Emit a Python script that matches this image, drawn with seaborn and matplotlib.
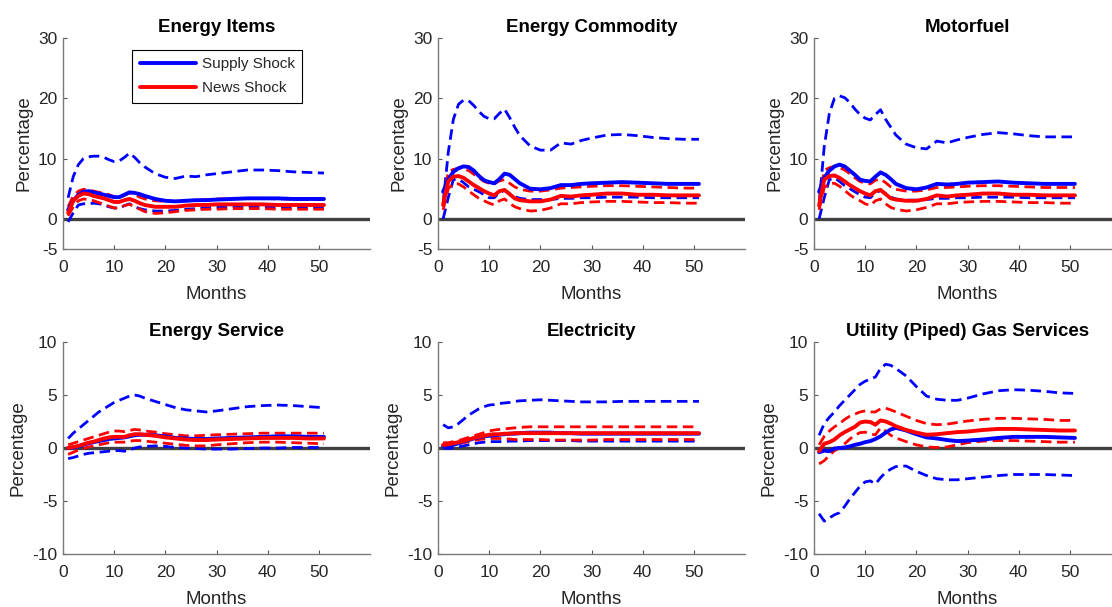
import numpy as np
import pandas as pd
import matplotlib
matplotlib.use("Agg")
import matplotlib.pyplot as plt
import seaborn as sns

sns.set_style("white")
plt.rcParams['font.family'] = ['Liberation Sans', 'DejaVu Sans']
plt.rcParams['axes.unicode_minus'] = False

months = [1, 2, 3, 4, 5, 6, 7, 8, 9, 10, 11, 12, 13, 14, 15, 16,
          18, 20, 22, 24, 26, 28, 30, 33, 36, 39, 42, 45, 48, 51]

titles = ["Energy Items", "Energy Commodity", "Motorfuel",
          "Energy Service", "Electricity", "Utility (Piped) Gas Services"]

# ---------------- Energy Items ----------------
items_supply_med = [1.5, 3.0, 4.0, 4.5, 4.6, 4.4, 4.2, 4.0, 3.8, 3.6, 3.6, 4.0, 4.4, 4.3, 4.1, 3.8,
                    3.3, 3.0, 2.9, 3.0, 3.1, 3.1, 3.2, 3.3, 3.4, 3.4, 3.4, 3.3, 3.3, 3.3]
items_supply_hi = [3.5, 7.0, 9.0, 10.0, 10.3, 10.4, 10.4, 10.2, 9.8, 9.5, 9.6, 10.2, 10.9, 10.2, 9.3, 8.6,
                   7.5, 6.9, 6.7, 7.1, 7.0, 7.3, 7.5, 7.8, 8.1, 8.1, 8.0, 7.8, 7.7, 7.6]
items_supply_lo = [-0.5, 1.0, 2.3, 2.5, 2.5, 2.6, 2.5, 2.3, 2.0, 1.8, 1.8, 2.2, 2.5, 2.0, 1.7, 1.5,
                   1.3, 1.3, 1.4, 1.6, 1.7, 1.8, 1.9, 2.0, 2.0, 2.0, 1.9, 1.9, 1.9, 1.8]
items_news_med = [1.0, 3.0, 3.8, 4.2, 4.1, 3.8, 3.6, 3.4, 3.1, 2.8, 2.8, 3.1, 3.3, 3.0, 2.6, 2.3,
                  2.0, 2.0, 2.0, 2.2, 2.3, 2.3, 2.4, 2.4, 2.4, 2.4, 2.3, 2.3, 2.3, 2.3]
items_news_hi = [2.0, 3.8, 4.6, 4.9, 4.8, 4.6, 4.4, 4.3, 4.0, 3.7, 3.5, 3.9, 4.3, 4.0, 3.6, 3.3,
                 3.0, 2.9, 2.9, 3.0, 3.1, 3.2, 3.3, 3.3, 3.4, 3.4, 3.3, 3.3, 3.2, 3.2]
items_news_lo = [0.5, 2.0, 3.0, 3.3, 3.2, 3.0, 2.7, 2.4, 2.1, 1.8, 1.8, 2.2, 2.4, 2.0, 1.6, 1.2,
                 0.9, 1.0, 1.2, 1.4, 1.5, 1.6, 1.6, 1.7, 1.7, 1.7, 1.6, 1.6, 1.6, 1.6]

# ---------------- Energy Commodity ----------------
comm_supply_med = [4.5, 6.5, 7.8, 8.4, 8.7, 8.6, 8.0, 7.1, 6.4, 6.1, 5.9, 6.6, 7.5, 7.3, 6.6, 5.9,
                   5.0, 4.9, 5.1, 5.6, 5.6, 5.8, 5.9, 6.0, 6.1, 6.0, 5.9, 5.8, 5.8, 5.8]
comm_supply_hi = [2.5, 11.0, 16.5, 19.0, 19.7, 19.6, 18.8, 17.8, 17.0, 16.6, 16.6, 17.5, 18.2, 16.8, 15.2, 13.8,
                  12.1, 11.4, 11.4, 12.6, 12.4, 13.0, 13.4, 13.9, 14.0, 13.8, 13.5, 13.3, 13.2, 13.2]
comm_supply_lo = [0.0, 3.5, 6.5, 6.6, 6.0, 5.3, 4.9, 4.5, 4.0, 3.5, 3.5, 4.4, 4.7, 4.2, 3.7, 3.4,
                  3.2, 3.2, 3.2, 3.4, 3.4, 3.5, 3.5, 3.6, 3.6, 3.6, 3.5, 3.5, 3.5, 3.5]
comm_news_med = [2.3, 6.2, 7.0, 7.1, 6.8, 6.2, 5.6, 5.1, 4.6, 4.2, 3.9, 4.6, 4.8, 4.1, 3.4, 3.1,
                 2.9, 2.9, 3.2, 3.8, 3.7, 3.9, 4.0, 4.2, 4.2, 4.0, 4.0, 3.9, 3.9, 3.9]
comm_news_hi = [3.0, 7.8, 8.2, 8.4, 8.3, 8.0, 7.4, 6.8, 6.2, 5.9, 5.8, 6.3, 6.5, 5.9, 5.3, 4.9,
                4.6, 4.6, 4.8, 5.1, 5.2, 5.3, 5.4, 5.5, 5.5, 5.4, 5.3, 5.2, 5.1, 5.1]
comm_news_lo = [1.5, 5.0, 5.8, 5.8, 5.3, 4.6, 4.0, 3.4, 3.0, 2.6, 2.3, 3.0, 3.3, 2.6, 2.0, 1.7,
                1.3, 1.4, 1.8, 2.5, 2.5, 2.7, 2.8, 2.9, 2.9, 2.8, 2.7, 2.7, 2.6, 2.6]

# ---------------- Motorfuel ----------------
fuel_supply_med = [4.5, 6.8, 8.0, 8.7, 9.0, 8.7, 8.0, 7.3, 6.5, 6.3, 6.2, 7.0, 7.7, 7.3, 6.6, 5.8,
                   5.1, 4.9, 5.2, 5.8, 5.7, 5.8, 6.0, 6.1, 6.2, 6.0, 5.9, 5.8, 5.8, 5.8]
fuel_supply_hi = [2.5, 12.0, 17.5, 20.0, 20.4, 20.1, 19.3, 18.2, 17.3, 16.7, 16.4, 17.3, 18.1, 16.5, 15.2, 13.9,
                  12.4, 11.8, 11.6, 12.9, 12.6, 13.1, 13.5, 14.0, 14.3, 14.1, 13.8, 13.6, 13.6, 13.6]
fuel_supply_lo = [0.0, 3.5, 6.5, 6.8, 6.2, 5.5, 5.0, 4.5, 4.0, 3.6, 3.5, 4.3, 4.7, 4.2, 3.6, 3.3,
                  3.1, 3.1, 3.2, 3.4, 3.4, 3.5, 3.5, 3.6, 3.6, 3.6, 3.5, 3.5, 3.5, 3.5]
fuel_news_med = [2.2, 6.5, 7.1, 7.2, 6.8, 6.2, 5.6, 5.1, 4.6, 4.2, 3.9, 4.6, 4.8, 4.1, 3.4, 3.2,
                 3.0, 3.0, 3.3, 3.9, 3.7, 3.9, 4.0, 4.2, 4.2, 4.0, 4.0, 3.9, 3.9, 3.9]
fuel_news_hi = [3.0, 8.0, 8.5, 8.7, 8.5, 8.1, 7.5, 6.8, 6.2, 5.9, 5.8, 6.4, 6.6, 6.0, 5.3, 4.9,
                4.6, 4.6, 4.8, 5.2, 5.2, 5.3, 5.4, 5.5, 5.5, 5.4, 5.3, 5.2, 5.2, 5.2]
fuel_news_lo = [1.5, 5.2, 5.9, 5.9, 5.4, 4.7, 4.0, 3.4, 3.0, 2.5, 2.2, 3.0, 3.3, 2.5, 1.9, 1.6,
                1.3, 1.5, 1.9, 2.5, 2.5, 2.7, 2.8, 2.9, 2.9, 2.8, 2.7, 2.7, 2.6, 2.6]

# ---------------- Energy Service ----------------
serv_supply_med = [0.0, 0.05, 0.15, 0.3, 0.45, 0.55, 0.65, 0.75, 0.85, 0.9, 0.95, 1.0, 1.1, 1.2, 1.25, 1.25,
                   1.2, 1.1, 0.95, 0.9, 0.85, 0.85, 0.9, 0.95, 1.0, 1.05, 1.1, 1.1, 1.05, 1.05]
serv_supply_hi = [0.9, 1.4, 1.8, 2.2, 2.6, 3.0, 3.4, 3.7, 4.0, 4.3, 4.5, 4.7, 4.9, 5.0, 4.9, 4.7,
                  4.4, 4.1, 3.8, 3.6, 3.5, 3.4, 3.5, 3.7, 3.9, 4.0, 4.05, 4.0, 3.9, 3.8]
serv_supply_lo = [-1.0, -0.9, -0.75, -0.6, -0.5, -0.45, -0.4, -0.35, -0.3, -0.25, -0.25, -0.3, -0.2, 0.0, 0.1, 0.15,
                  0.2, 0.15, 0.05, 0.0, -0.05, -0.1, -0.1, -0.1, -0.05, 0.0, 0.0, 0.05, 0.05, 0.05]
serv_news_med = [0.0, 0.1, 0.2, 0.35, 0.5, 0.6, 0.75, 0.9, 1.0, 1.05, 1.05, 1.05, 1.2, 1.3, 1.3, 1.25,
                 1.15, 1.0, 0.9, 0.8, 0.75, 0.75, 0.8, 0.85, 0.9, 0.95, 0.95, 0.95, 0.9, 0.9]
serv_news_hi = [0.3, 0.45, 0.6, 0.75, 0.9, 1.05, 1.2, 1.35, 1.5, 1.6, 1.6, 1.55, 1.65, 1.75, 1.7, 1.6,
                1.5, 1.35, 1.25, 1.15, 1.15, 1.2, 1.25, 1.3, 1.35, 1.4, 1.4, 1.4, 1.4, 1.4]
serv_news_lo = [-0.6, -0.4, -0.2, -0.05, 0.1, 0.2, 0.3, 0.4, 0.5, 0.55, 0.55, 0.55, 0.65, 0.7, 0.7, 0.65,
                0.55, 0.45, 0.35, 0.25, 0.2, 0.2, 0.3, 0.4, 0.5, 0.55, 0.55, 0.5, 0.45, 0.4]

# ---------------- Electricity ----------------
elec_supply_med = [0.2, 0.2, 0.3, 0.45, 0.6, 0.75, 0.9, 1.0, 1.1, 1.15, 1.2, 1.25, 1.3, 1.35, 1.35, 1.4,
                   1.45, 1.45, 1.45, 1.4, 1.4, 1.35, 1.35, 1.35, 1.35, 1.35, 1.35, 1.35, 1.35, 1.35]
elec_supply_hi = [2.2, 1.9, 2.0, 2.3, 2.7, 3.1, 3.4, 3.7, 3.9, 4.05, 4.1, 4.2, 4.25, 4.3, 4.4, 4.45,
                  4.5, 4.55, 4.5, 4.45, 4.4, 4.35, 4.35, 4.35, 4.4, 4.4, 4.4, 4.4, 4.4, 4.4]
elec_supply_lo = [0.0, -0.05, 0.0, 0.1, 0.2, 0.3, 0.4, 0.5, 0.55, 0.6, 0.6, 0.6, 0.6, 0.65, 0.65, 0.65,
                  0.7, 0.7, 0.7, 0.7, 0.7, 0.65, 0.65, 0.65, 0.65, 0.65, 0.65, 0.65, 0.65, 0.65]
elec_news_med = [0.3, 0.35, 0.45, 0.55, 0.65, 0.8, 0.95, 1.05, 1.15, 1.25, 1.3, 1.3, 1.35, 1.35, 1.4, 1.4,
                 1.4, 1.4, 1.4, 1.4, 1.4, 1.4, 1.4, 1.4, 1.4, 1.4, 1.4, 1.4, 1.4, 1.4]
elec_news_hi = [0.5, 0.5, 0.6, 0.7, 0.85, 1.0, 1.15, 1.3, 1.45, 1.6, 1.7, 1.75, 1.8, 1.85, 1.9, 1.95,
                2.0, 2.0, 2.0, 2.0, 2.0, 2.0, 2.0, 2.0, 2.0, 2.0, 2.0, 2.0, 2.0, 2.0]
elec_news_lo = [0.15, 0.2, 0.3, 0.4, 0.5, 0.6, 0.7, 0.8, 0.85, 0.9, 0.9, 0.9, 0.85, 0.85, 0.8, 0.8,
                0.8, 0.8, 0.75, 0.75, 0.75, 0.75, 0.75, 0.8, 0.8, 0.8, 0.8, 0.8, 0.8, 0.8]

# ---------------- Utility (Piped) Gas Services ----------------
gas_supply_med = [-0.4, -0.25, -0.3, -0.05, 0.0, 0.05, 0.15, 0.3, 0.4, 0.55, 0.65, 0.85, 1.1, 1.45, 1.75, 1.9,
                  1.65, 1.3, 1.0, 0.9, 0.75, 0.65, 0.7, 0.8, 0.95, 1.05, 1.05, 1.05, 1.0, 0.95]
gas_supply_hi = [1.2, 2.3, 2.9, 3.4, 4.0, 4.5, 5.0, 5.5, 6.0, 6.3, 6.5, 6.7, 7.5, 7.9, 7.8, 7.5,
                 6.8, 5.8, 4.9, 4.6, 4.5, 4.5, 4.7, 5.1, 5.4, 5.5, 5.45, 5.35, 5.2, 5.15]
gas_supply_lo = [-6.2, -6.9, -6.6, -6.3, -6.1, -5.5, -4.8, -4.2, -3.6, -3.2, -3.1, -3.4, -2.8, -2.3, -2.0, -1.75,
                 -1.7, -2.2, -2.6, -2.9, -3.0, -3.0, -2.9, -2.75, -2.6, -2.5, -2.5, -2.5, -2.55, -2.6]
gas_news_med = [-0.3, 0.4, 0.55, 0.8, 1.2, 1.5, 1.75, 2.0, 2.4, 2.5, 2.45, 2.2, 2.6, 2.5, 2.3, 2.05,
                1.7, 1.45, 1.25, 1.3, 1.4, 1.5, 1.55, 1.7, 1.8, 1.8, 1.75, 1.7, 1.65, 1.65]
gas_news_hi = [0.3, 1.1, 1.6, 2.0, 2.3, 2.7, 3.0, 3.2, 3.4, 3.5, 3.4, 3.4, 3.7, 3.75, 3.6, 3.4,
               3.0, 2.6, 2.3, 2.2, 2.25, 2.4, 2.55, 2.7, 2.8, 2.8, 2.75, 2.7, 2.6, 2.6]
gas_news_lo = [-1.5, -1.2, -0.7, -0.25, 0.0, 0.4, 0.85, 1.2, 1.45, 1.5, 1.3, 1.25, 1.9, 1.6, 1.2, 0.95,
               0.6, 0.3, 0.1, 0.05, 0.1, 0.3, 0.5, 0.65, 0.7, 0.7, 0.65, 0.6, 0.55, 0.55]

panels = [
    (items_supply_med, items_supply_hi, items_supply_lo, items_news_med, items_news_hi, items_news_lo),
    (comm_supply_med, comm_supply_hi, comm_supply_lo, comm_news_med, comm_news_hi, comm_news_lo),
    (fuel_supply_med, fuel_supply_hi, fuel_supply_lo, fuel_news_med, fuel_news_hi, fuel_news_lo),
    (serv_supply_med, serv_supply_hi, serv_supply_lo, serv_news_med, serv_news_hi, serv_news_lo),
    (elec_supply_med, elec_supply_hi, elec_supply_lo, elec_news_med, elec_news_hi, elec_news_lo),
    (gas_supply_med, gas_supply_hi, gas_supply_lo, gas_news_med, gas_news_hi, gas_news_lo),
]

top_yticks = [-5, 0, 10, 20, 30]
bot_yticks = [-10, -5, 0, 5, 10]
xticks = [0, 10, 20, 30, 40, 50]

BLUE = "#0000FF"
RED = "#FF0000"
W, H = 1112, 607
fig = plt.figure(figsize=(W / 100, H / 100), dpi=100)

lefts = [63, 438, 814]
tops = [38, 342]
heights = [211, 212]
width = 307

for i, (title, data) in enumerate(zip(titles, panels)):
    r, c = divmod(i, 3)
    ax = fig.add_axes([lefts[c] / W, 1 - (tops[r] + heights[r]) / H, width / W, heights[r] / H])
    ax.axhline(0, color="#404040", lw=2.4, zorder=1)
    s_med, s_hi, s_lo, n_med, n_hi, n_lo = data
    for vals, col in [(s_hi, BLUE), (s_lo, BLUE), (n_hi, RED), (n_lo, RED)]:
        sns.lineplot(x=months, y=vals, ax=ax, color=col, lw=2.0, zorder=3)
        ax.lines[-1].set_dashes((3.8, 2.0))
    sns.lineplot(x=months, y=s_med, ax=ax, color=BLUE, lw=2.8, zorder=4, label="Supply Shock")
    sns.lineplot(x=months, y=n_med, ax=ax, color=RED, lw=2.8, zorder=5, label="News Shock")

    ax.set_xlim(0, 60)
    ax.set_xticks(xticks)
    if r == 0:
        ax.set_ylim(-5, 30)
        ax.set_yticks(top_yticks)
    else:
        ax.set_ylim(-10, 10)
        ax.set_yticks(bot_yticks)
    for s in ["top", "right"]:
        ax.spines[s].set_visible(False)
    for s in ["left", "bottom"]:
        ax.spines[s].set_color("#7a7a7a")
        ax.spines[s].set_linewidth(1.0)
    ax.tick_params(axis="both", direction="in", length=3, width=0.8, color="#555555",
                   labelsize=12.5, labelcolor="#262626", left=True, bottom=True)
    ax.tick_params(axis="x", pad=8)
    ax.tick_params(axis="y", pad=4)
    ax.set_xlabel("Months", fontsize=13.5, color="#262626", labelpad=8)
    ax.set_ylabel("Percentage", fontsize=13.5, color="#262626", labelpad=4)
    ax.set_title(title, fontsize=13.5, fontweight="bold", color="#000000", pad=4)
    if i == 0:
        leg = ax.legend(loc="upper left", bbox_to_anchor=(0.225, 0.945), fontsize=11,
                        frameon=True, fancybox=False, edgecolor="#000000", framealpha=1,
                        handlelength=3.7, handletextpad=0.35, borderpad=0.5,
                        labelspacing=0.65, borderaxespad=0)
        leg.get_frame().set_linewidth(0.8)
    else:
        lg = ax.get_legend()
        if lg is not None:
            lg.remove()

fig.savefig("out.png", dpi=100)
